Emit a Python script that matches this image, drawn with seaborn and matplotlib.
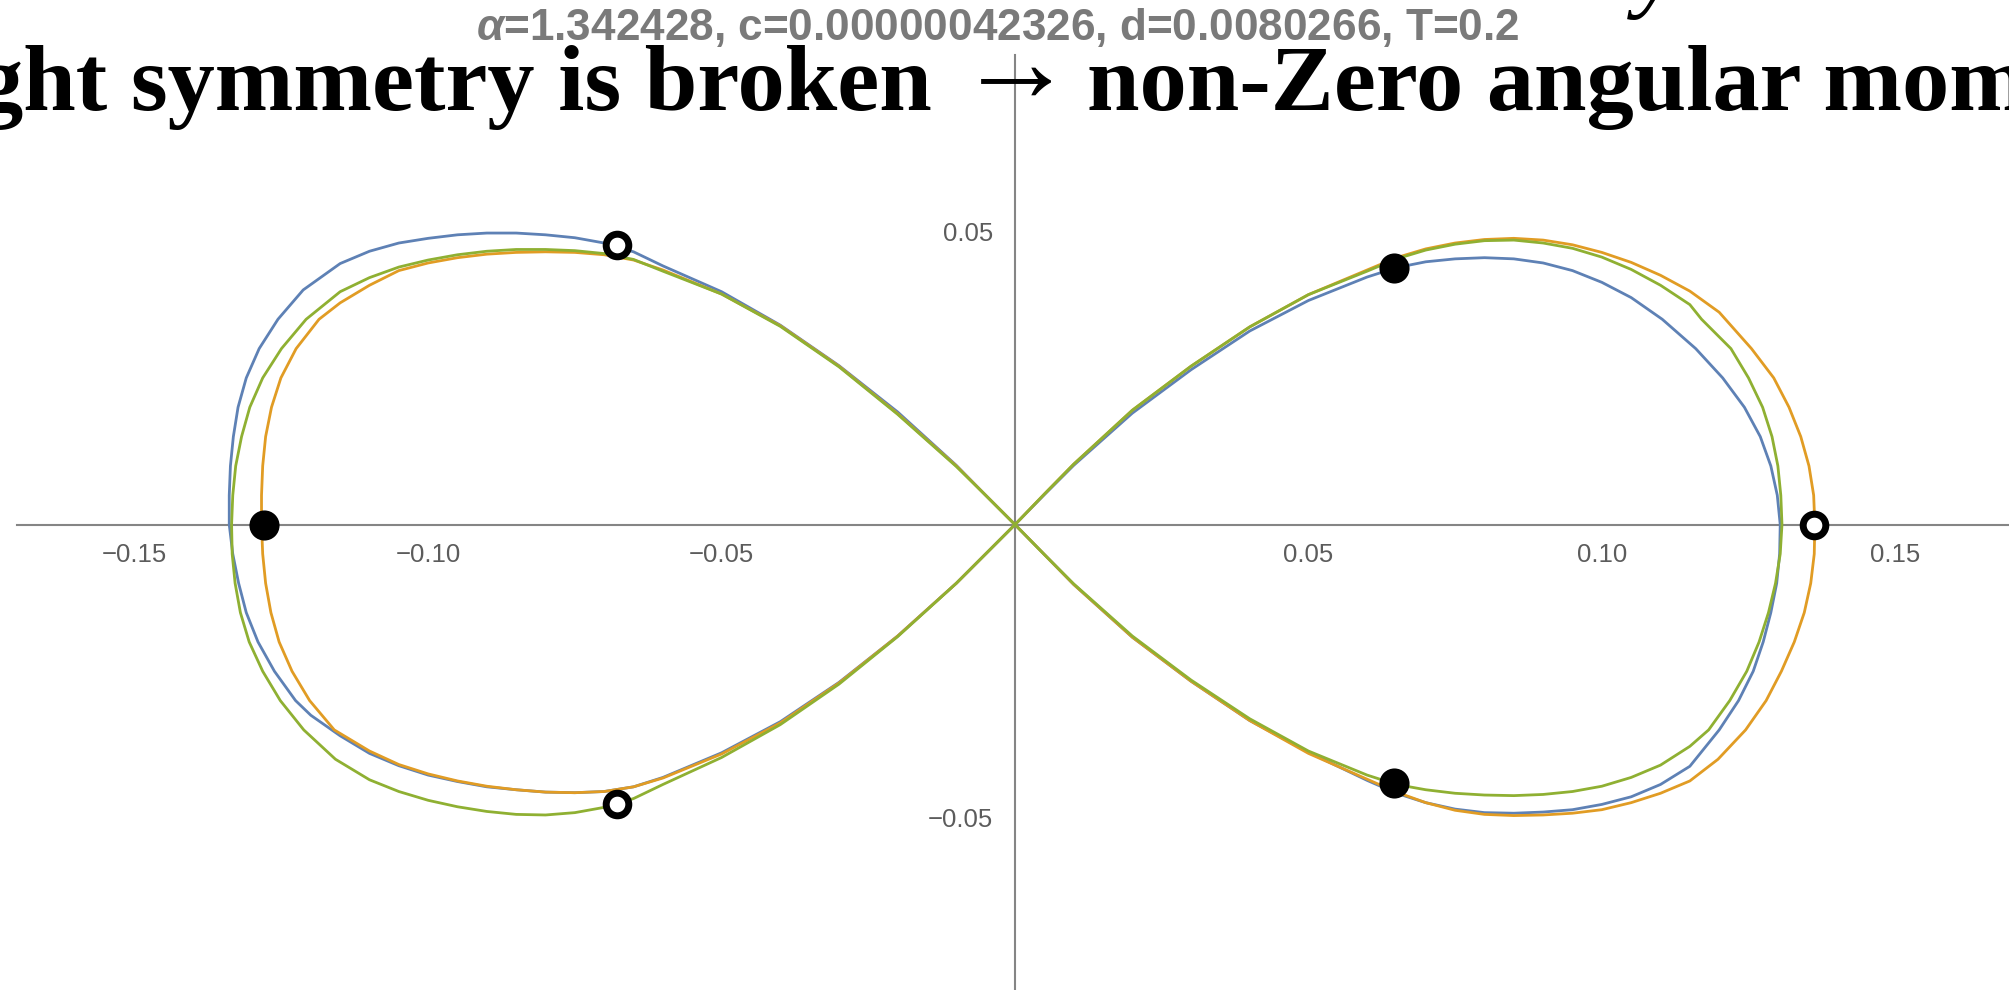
import numpy as np
import pandas as pd
import matplotlib
matplotlib.use("Agg")
import matplotlib.pyplot as plt
import seaborn as sns
from matplotlib.ticker import FixedLocator, MultipleLocator, FuncFormatter

# Orbit traces (x, y). Each path runs: origin -> right lobe (upper, tip, lower)
# -> origin -> left lobe (upper, tip, lower) -> origin.
blue_path = [
    (0.0, 0.0), (0.005, 0.0051), (0.01, 0.0101), (0.02, 0.019), (0.03, 0.0264),
    (0.04, 0.033), (0.05, 0.0382),
    (0.06, 0.0422), (0.065, 0.0438), (0.07, 0.0448), (0.075, 0.0453), (0.08, 0.0455),
    (0.085, 0.0453), (0.09, 0.0446), (0.095, 0.0433), (0.1, 0.0413), (0.105, 0.0387),
    (0.1103, 0.035), (0.116, 0.03), (0.1206, 0.025), (0.1243, 0.02), (0.127, 0.015),
    (0.1288, 0.01), (0.1299, 0.005), (0.1304, 0.0), (0.1303, -0.005), (0.1298, -0.01),
    (0.1288, -0.015), (0.1275, -0.02), (0.1258, -0.025), (0.1233, -0.03), (0.12, -0.035),
    (0.115, -0.0412), (0.11, -0.0443), (0.105, -0.0464), (0.1, -0.0477), (0.095, -0.0486),
    (0.09, -0.049), (0.085, -0.0492), (0.08, -0.0491), (0.075, -0.0485), (0.07, -0.0474),
    (0.065, -0.0458), (0.06, -0.0436),
    (0.05, -0.0388), (0.04, -0.0334), (0.03, -0.0267), (0.02, -0.0192), (0.01, -0.0102),
    (0.005, -0.0051), (0.0, 0.0),
    (-0.005, 0.005), (-0.01, 0.0101), (-0.02, 0.0192), (-0.03, 0.0271), (-0.04, 0.034),
    (-0.05, 0.0397),
    (-0.06, 0.0441), (-0.065, 0.0465), (-0.07, 0.048), (-0.075, 0.0489), (-0.08, 0.0494),
    (-0.085, 0.0497), (-0.09, 0.0497), (-0.095, 0.0494), (-0.1, 0.0488), (-0.105, 0.048),
    (-0.11, 0.0466), (-0.115, 0.0445),
    (-0.1213, 0.04), (-0.1256, 0.035), (-0.1288, 0.03), (-0.131, 0.025), (-0.1324, 0.02),
    (-0.1332, 0.015), (-0.1337, 0.01), (-0.1339, 0.005), (-0.1339, 0.0), (-0.1333, -0.005),
    (-0.1323, -0.01), (-0.131, -0.015), (-0.129, -0.02), (-0.1262, -0.025), (-0.1226, -0.03),
    (-0.12, -0.0325), (-0.115, -0.036), (-0.11, -0.039), (-0.105, -0.0411), (-0.1, -0.0427),
    (-0.095, -0.0438), (-0.09, -0.0447), (-0.085, -0.0452), (-0.08, -0.0456),
    (-0.075, -0.0457), (-0.07, -0.0455), (-0.065, -0.0447), (-0.06, -0.0431),
    (-0.05, -0.0389), (-0.04, -0.0336), (-0.03, -0.0269), (-0.02, -0.019), (-0.01, -0.01),
    (-0.005, -0.005), (0.0, 0.0),
]

orange_path = [
    (0.0, 0.0), (0.005, 0.0052), (0.01, 0.0103), (0.02, 0.0195), (0.03, 0.027),
    (0.04, 0.0337), (0.05, 0.0392),
    (0.06, 0.0434), (0.065, 0.0455), (0.07, 0.047), (0.075, 0.048), (0.08, 0.0486),
    (0.085, 0.0488), (0.09, 0.0485), (0.095, 0.0477), (0.1, 0.0464), (0.105, 0.0447),
    (0.11, 0.0425), (0.115, 0.0398), (0.12, 0.0362),
    (0.1255, 0.03), (0.1293, 0.025), (0.1319, 0.02), (0.1339, 0.015), (0.1353, 0.01),
    (0.1361, 0.005), (0.1363, 0.0), (0.1362, -0.005), (0.1356, -0.01), (0.1345, -0.015),
    (0.1328, -0.02), (0.1306, -0.025), (0.128, -0.03), (0.1245, -0.035), (0.1198, -0.04),
    (0.115, -0.0437), (0.11, -0.0458), (0.105, -0.0474), (0.1, -0.0486), (0.095, -0.0492),
    (0.09, -0.0495), (0.085, -0.0496), (0.08, -0.0494), (0.075, -0.0487), (0.07, -0.0474),
    (0.065, -0.0456), (0.06, -0.0434),
    (0.05, -0.039), (0.04, -0.0334), (0.03, -0.0267), (0.02, -0.0192), (0.01, -0.0102),
    (0.005, -0.0051), (0.0, 0.0),
    (-0.005, 0.005), (-0.01, 0.01), (-0.02, 0.0189), (-0.03, 0.027), (-0.04, 0.0339),
    (-0.05, 0.0393),
    (-0.06, 0.0434), (-0.065, 0.0451), (-0.07, 0.046), (-0.075, 0.0464), (-0.08, 0.0465),
    (-0.085, 0.0464), (-0.09, 0.0461), (-0.095, 0.0455), (-0.1, 0.0446), (-0.105, 0.0433),
    (-0.11, 0.0408), (-0.115, 0.0378),
    (-0.1186, 0.035), (-0.1225, 0.03), (-0.1251, 0.025), (-0.1267, 0.02), (-0.1277, 0.015),
    (-0.1282, 0.01), (-0.1284, 0.005), (-0.1284, 0.0), (-0.1282, -0.005), (-0.1277, -0.01),
    (-0.1268, -0.015), (-0.1254, -0.02), (-0.1232, -0.025), (-0.1202, -0.03), (-0.116, -0.035),
    (-0.11, -0.0386), (-0.105, -0.0409), (-0.1, -0.0425), (-0.095, -0.0437), (-0.09, -0.0446),
    (-0.085, -0.0452), (-0.08, -0.0456), (-0.075, -0.0457), (-0.07, -0.0455),
    (-0.065, -0.0447), (-0.06, -0.0432),
    (-0.05, -0.0391), (-0.04, -0.0338), (-0.03, -0.027), (-0.02, -0.019), (-0.01, -0.01),
    (-0.005, -0.005), (0.0, 0.0),
]

green_path = [
    (0.0, 0.0), (0.005, 0.0052), (0.01, 0.0103), (0.02, 0.0195), (0.03, 0.027),
    (0.04, 0.0337), (0.05, 0.0392),
    (0.06, 0.0432), (0.065, 0.0453), (0.07, 0.0468), (0.075, 0.0478), (0.08, 0.0484),
    (0.085, 0.0485), (0.09, 0.048), (0.095, 0.0471), (0.1, 0.0456), (0.105, 0.0435),
    (0.11, 0.0408), (0.115, 0.0375),
    (0.117, 0.035), (0.122, 0.03), (0.125, 0.025), (0.1274, 0.02), (0.129, 0.015),
    (0.13, 0.01), (0.1305, 0.005), (0.1307, 0.0), (0.1304, -0.005), (0.1296, -0.01),
    (0.1284, -0.015), (0.1268, -0.02), (0.1247, -0.025), (0.1218, -0.03), (0.1182, -0.035),
    (0.115, -0.0378), (0.11, -0.041), (0.105, -0.0431), (0.1, -0.0446), (0.095, -0.0455),
    (0.09, -0.046), (0.085, -0.0462), (0.08, -0.0461), (0.075, -0.0458), (0.07, -0.0452),
    (0.065, -0.0443), (0.06, -0.0427),
    (0.05, -0.0386), (0.04, -0.0331), (0.03, -0.0265), (0.02, -0.019), (0.01, -0.0101),
    (0.005, -0.0051), (0.0, 0.0),
    (-0.005, 0.005), (-0.01, 0.0099), (-0.02, 0.0188), (-0.03, 0.0269), (-0.04, 0.0338),
    (-0.05, 0.0393),
    (-0.06, 0.0432), (-0.065, 0.0452), (-0.07, 0.0462), (-0.075, 0.0467), (-0.08, 0.0469),
    (-0.085, 0.0469), (-0.09, 0.0466), (-0.095, 0.046), (-0.1, 0.0451), (-0.105, 0.0439),
    (-0.11, 0.0421), (-0.115, 0.0397),
    (-0.1208, 0.035), (-0.125, 0.03), (-0.1282, 0.025), (-0.1304, 0.02), (-0.1318, 0.015),
    (-0.1328, 0.01), (-0.1333, 0.005), (-0.1335, 0.0), (-0.1334, -0.005), (-0.1329, -0.01),
    (-0.132, -0.015), (-0.1305, -0.02), (-0.1282, -0.025), (-0.1252, -0.03), (-0.1212, -0.035),
    (-0.1158, -0.04),
    (-0.11, -0.0435), (-0.105, -0.0455), (-0.1, -0.047), (-0.095, -0.0481), (-0.09, -0.0489),
    (-0.085, -0.0494), (-0.08, -0.0495), (-0.075, -0.0491), (-0.07, -0.0482),
    (-0.065, -0.0467), (-0.06, -0.0443),
    (-0.05, -0.0397), (-0.04, -0.0341), (-0.03, -0.0272), (-0.02, -0.0191), (-0.01, -0.01),
    (-0.005, -0.005), (0.0, 0.0),
]

# Body positions at the two marked instants
filled_x = [-0.128, 0.0645, 0.0645]
filled_y = [0.0, 0.0438, -0.0441]
open_x = [0.1362, -0.0679, -0.0679]
open_y = [0.0, 0.0476, -0.0476]

x_major = [-0.15, -0.10, -0.05, 0.05, 0.10, 0.15]
y_major = [-0.05, 0.05]

subtitle = r"$\alpha$=1.342428, c=0.00000042326, d=0.0080266, T=0.2"
headline_left = "ght symmetry is broken"
headline_arrow = "\u2192"
headline_right = "non-Zero angular mom"

body_names = ["body 1", "body 2", "body 3"]
body_colors = ["#5E81B5", "#E19C24", "#8FB032"]

frames = []
for name, path in zip(body_names, [blue_path, orange_path, green_path]):
    arr = np.array(path)
    frames.append(pd.DataFrame({"x": arr[:, 0], "y": arr[:, 1], "body": name,
                                "step": np.arange(len(arr))}))
orbits = pd.concat(frames, ignore_index=True)

sns.set_style("white")
plt.rcParams["font.family"] = ["Liberation Sans", "DejaVu Sans"]
plt.rcParams["mathtext.fontset"] = "custom"
plt.rcParams["mathtext.it"] = "Liberation Sans:italic:bold"
plt.rcParams["mathtext.rm"] = "Liberation Sans"

W, H = 2009, 990
fig = plt.figure(figsize=(W / 100, H / 100), dpi=100)
fig.patch.set_facecolor("white")
ax = fig.add_axes([17.4 / W, -3.9 / H, 1995.2 / W, 938.6 / H])
ax.set_facecolor("white")

sns.lineplot(data=orbits, x="x", y="y", hue="body", hue_order=body_names,
             palette=body_colors, sort=False, estimator=None, linewidth=2.0,
             legend=False, ax=ax, zorder=3)
for line in ax.lines:
    line.set_solid_joinstyle("round")

sns.scatterplot(x=filled_x, y=filled_y, color="black", s=470, linewidth=0,
                ax=ax, zorder=5)
sns.scatterplot(x=open_x, y=open_y, facecolor="white", edgecolor="black", s=265,
                linewidth=5.0, ax=ax, zorder=5)

ax.set_xlim(-0.17, 0.17)
ax.set_ylim(-0.08, 0.08)
ax.set_xlabel("")
ax.set_ylabel("")

axis_color = "#858585"
for side in ["top", "right"]:
    ax.spines[side].set_visible(False)
ax.spines["left"].set_position(("data", 0))
ax.spines["bottom"].set_position(("data", 0))
for side in ["left", "bottom"]:
    ax.spines[side].set_color(axis_color)
    ax.spines[side].set_linewidth(1.5)
    ax.spines[side].set_zorder(1)

ax.xaxis.set_major_locator(FixedLocator(x_major))
ax.yaxis.set_major_locator(FixedLocator(y_major))
ax.xaxis.set_minor_locator(MultipleLocator(0.01))
ax.yaxis.set_minor_locator(MultipleLocator(0.01))
fmt = FuncFormatter(lambda v, _: f"{v:.2f}".replace("-", "\u2212"))
ax.xaxis.set_major_formatter(fmt)
ax.yaxis.set_major_formatter(fmt)

ax.tick_params(which="both", direction="in", color=axis_color, width=1.3)
ax.tick_params(which="major", length=9, labelsize=18.5, labelcolor="#5c5c5c")
ax.tick_params(which="minor", length=5)
ax.tick_params(axis="x", which="major", pad=13.5)
ax.tick_params(axis="y", which="major", pad=15.5)
ax.grid(False)

fig.text(998 / W, 1 - 40 / H, subtitle, ha="center", va="baseline",
         fontsize=31.8, fontweight="bold", color="#7a7a7a")

serif = ["Liberation Serif", "DejaVu Serif"]
fig.text(-24 / W, 1 - 110 / H, headline_left, ha="left", va="baseline",
         fontsize=68, fontweight="bold", color="black", family=serif, zorder=10)
fig.text(957 / W, 1 - 101 / H, headline_arrow, ha="left", va="baseline",
         fontsize=85, color="black", family=serif, zorder=10)
fig.text(1087 / W, 1 - 110 / H, headline_right, ha="left", va="baseline",
         fontsize=68, fontweight="bold", color="black", family=serif, zorder=10)
fig.text(1635 / W, 1.0, "y", ha="left", va="baseline", fontsize=68,
         style="italic", color="black", family=serif, zorder=10)

fig.savefig("out.png", dpi=100, facecolor="white")
